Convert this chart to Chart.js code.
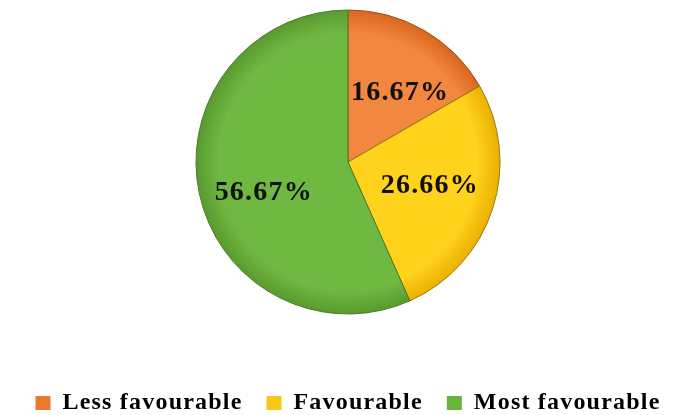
<!DOCTYPE html>
<html>
<head>
<meta charset="utf-8">
<script src="https://cdn.jsdelivr.net/npm/chart.js@4"></script>
<style>
  body { margin: 0; background: #fff; }
  #wrap { width: 696px; height: 415px; }
</style>
</head>
<body>
<div id="wrap"><canvas id="pieChart" width="696" height="415"></canvas></div>
<script>
// Chart data
const categories = ['Less favourable', 'Favourable', 'Most favourable'];
const shares = [16.67, 26.66, 56.67];
const valueLabels = ['16.67%', '26.66%', '56.67%'];

// slice colours (inner / rim / edge line)
const innerColors = ['#F2873F', '#FFD21C', '#6FB841'];
const rimColors = ['#DA661E', '#EAB000', '#5A9A30'];
const edgeColors = ['#9A5020', '#9A7A10', '#4A7A28'];
const legendColors = ['#E8792E', '#F7C81A', '#6AB43E'];

const PIE_RADIUS = 152;
const SERIF = '"Liberation Serif", "Times New Roman", serif';
// small tweaks so the percentages sit where the original puts them
const labelNudge = [[8, 7], [-2, -3], [2, 12]];

// shaded fill, lighter towards the middle like the original bevel
const sliceFill = (ctx) => {
  const chart = ctx.chart;
  const area = chart.chartArea;
  const i = ctx.dataIndex;
  if (!area) return innerColors[i];
  const cx = (area.left + area.right) / 2;
  const cy = (area.top + area.bottom) / 2;
  const g = chart.ctx.createRadialGradient(cx, cy, 0, cx, cy, PIE_RADIUS);
  g.addColorStop(0, innerColors[i]);
  g.addColorStop(0.85, innerColors[i]);
  g.addColorStop(1, rimColors[i]);
  return g;
};

// the original text is set a little wider than plain Times
const wideText = {
  id: 'wideText',
  beforeLayout(chart) { chart.ctx.letterSpacing = '1.2px'; },
  beforeDraw(chart) { chart.ctx.letterSpacing = '1.2px'; }
};

// percentages written inside the slices
const sliceLabels = {
  id: 'sliceLabels',
  afterDatasetsDraw(chart) {
    const { ctx } = chart;
    const meta = chart.getDatasetMeta(0);
    ctx.save();
    ctx.font = 'bold 28px ' + SERIF;
    ctx.fillStyle = '#111';
    ctx.textAlign = 'center';
    ctx.textBaseline = 'middle';
    meta.data.forEach((arc, i) => {
      const p = arc.getProps(['x', 'y', 'startAngle', 'endAngle', 'outerRadius'], true);
      const mid = (p.startAngle + p.endAngle) / 2;
      const d = p.outerRadius * 0.58;
      ctx.fillText(valueLabels[i],
        p.x + Math.cos(mid) * d + labelNudge[i][0],
        p.y + Math.sin(mid) * d + labelNudge[i][1]);
    });
    ctx.restore();
  }
};

new Chart(document.getElementById('pieChart').getContext('2d'), {
  type: 'pie',
  data: {
    labels: categories,
    datasets: [{
      data: shares,
      backgroundColor: sliceFill,
      borderColor: edgeColors,
      borderWidth: 1,
      radius: PIE_RADIUS
    }]
  },
  options: {
    responsive: false,
    animation: false,
    layout: { padding: { top: 0, bottom: -10 } },
    plugins: {
      tooltip: { enabled: false },
      legend: {
        position: 'bottom',
        // blank title only used as spacer between pie and legend row
        title: { display: true, text: ' ', font: { size: 10 }, padding: { top: 15.5, bottom: 15.5 } },
        labels: {
          color: '#000',
          boxWidth: 15,
          boxHeight: 14,
          padding: 24,
          font: { family: SERIF, size: 24, weight: 'bold' },
          generateLabels: () => categories.map((c, i) => ({
            text: c,
            fillStyle: legendColors[i],
            strokeStyle: legendColors[i],
            fontColor: '#000',
            lineWidth: 0,
            index: i
          }))
        }
      }
    }
  },
  plugins: [wideText, sliceLabels]
});
</script>
</body>
</html>
